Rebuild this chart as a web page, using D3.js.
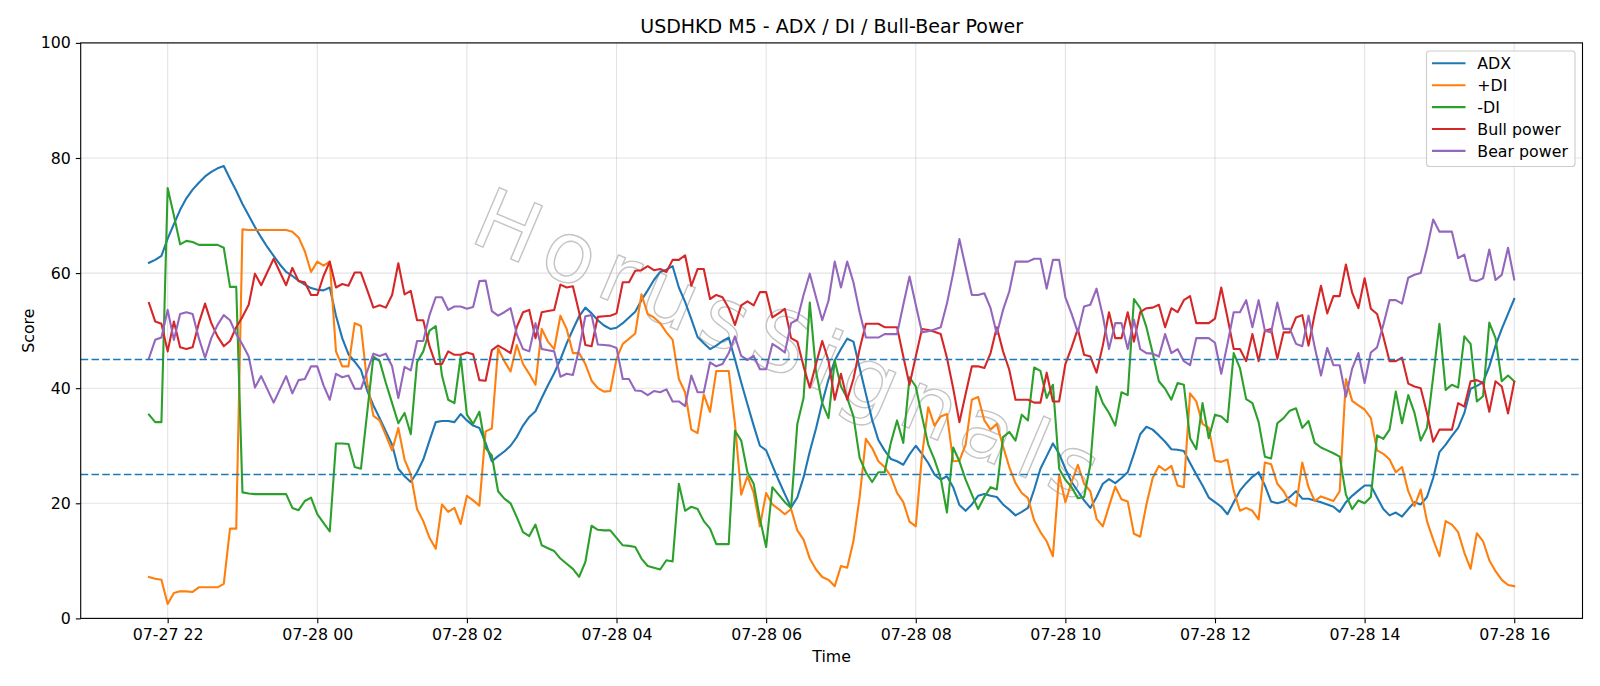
<!DOCTYPE html>
<html><head><meta charset="utf-8">
<script src="https://cdn.jsdelivr.net/npm/d3@7"></script>
<style>
body{margin:0;background:#fff}
svg{display:block}
text{font-family:"DejaVu Sans","Liberation Sans",sans-serif}
</style>
</head><body>
<svg id="chart" width="1600" height="686"></svg>
<script>
// ---------- data (one value per 5-minute bar, starting 07-27 21:45) ----------
const seriesNames = ["ADX", "+DI", "-DI", "Bull power", "Bear power"];
const seriesColors = ["#1f77b4", "#ff7f0e", "#2ca02c", "#d62728", "#9467bd"];

const adx = [61.8,62.3,63.0,66.0,68.5,71.0,73.0,74.5,75.7,76.8,77.6,78.2,78.6,76.4,74.3,72.0,70.0,68.0,66.2,64.5,
63.0,61.5,60.2,59.5,58.7,58.0,57.4,57.1,57.0,57.5,52.6,48.7,45.9,44.6,43.2,39.6,37.0,34.8,32.5,30.2,
26.0,24.7,23.7,25.4,27.6,30.9,34.1,34.3,34.3,34.1,35.5,34.4,33.5,33.1,30.5,27.3,28.2,29.0,30.0,31.5,
33.5,35.0,36.0,38.3,40.5,42.6,45.0,47.8,50.2,52.5,54.0,53.0,51.8,50.9,50.3,50.5,51.3,52.3,53.3,55.3,
57.0,58.8,60.2,60.6,61.2,57.5,55.0,52.0,48.9,47.8,46.8,47.4,48.2,48.8,45.0,41.0,37.2,33.5,30.0,29.2,
26.6,24.0,21.6,19.3,21.0,24.5,29.0,33.0,37.5,41.5,44.8,46.8,48.6,48.1,43.5,39.0,34.5,31.0,29.2,27.7,
27.3,26.7,28.5,30.0,28.6,27.0,25.0,24.1,24.7,22.8,19.7,18.7,19.8,21.3,21.6,21.3,21.1,19.8,18.9,17.9,
18.5,19.2,22.4,26.0,28.2,30.4,28.6,26.0,23.7,22.1,20.5,19.2,21.1,23.4,24.2,23.5,24.4,25.4,28.6,32.0,
33.3,32.8,31.8,30.7,29.4,29.3,29.1,27.0,25.0,23.1,21.0,20.2,19.4,18.1,20.2,22.2,23.5,24.6,25.4,23.1,
20.3,20.0,20.3,21.1,22.1,20.8,20.8,20.5,20.2,19.8,19.4,18.5,20.2,21.3,22.2,23.1,23.1,21.0,19.0,17.9,
18.4,17.7,19.0,20.2,19.8,21.1,24.4,28.9,30.2,31.7,33.1,35.7,39.9,40.4,41.0,43.8,47.4,50.3,52.9,55.5];

const plusDI = [7.2,6.9,6.7,2.5,4.4,4.7,4.7,4.6,5.4,5.4,5.4,5.4,6.0,15.6,15.6,67.6,67.5,67.5,67.5,67.5,
67.5,67.5,67.5,67.2,66.2,63.8,60.2,62.0,61.3,62.0,46.4,43.8,43.8,51.3,50.8,41.0,35.2,34.4,31.8,29.2,
33.1,27.6,25.0,19.0,16.9,14.0,12.1,19.8,18.5,19.2,16.4,21.3,20.5,19.6,32.5,33.0,46.9,44.7,42.9,47.5,
44.2,42.5,40.6,50.3,48.1,46.8,52.6,50.3,46.1,46.1,44.2,41.3,40.0,39.4,39.5,45.1,47.7,48.6,49.5,56.3,
52.9,52.3,51.3,49.7,48.4,41.6,39.3,32.8,32.2,38.9,35.9,43.0,43.0,43.0,33.8,21.5,24.7,21.8,16.0,21.8,
19.8,19.0,18.1,19.0,15.3,13.7,10.4,8.5,7.2,6.7,5.6,9.1,8.8,13.4,21.1,31.2,29.6,27.3,26.3,24.7,
21.8,20.2,16.8,16.0,28.3,36.7,33.5,35.1,35.5,27.3,27.4,30.2,38.0,38.5,34.4,32.8,33.8,29.9,26.3,23.5,
21.8,20.9,17.0,15.0,13.4,10.8,25.0,20.2,23.7,26.7,23.4,22.1,17.3,16.0,19.5,22.9,20.7,20.3,14.7,14.2,
19.8,24.4,26.5,25.7,26.5,23.1,22.8,39.1,37.7,33.8,33.1,27.4,27.2,27.6,22.2,18.7,19.2,18.7,17.2,27.1,
26.8,23.4,22.1,20.2,19.5,27.1,22.8,20.4,21.2,20.8,20.4,22.1,41.6,37.8,37.0,36.3,34.8,29.2,28.6,27.6,
25.4,26.3,22.1,19.5,22.4,16.9,13.7,10.8,16.9,16.3,15.0,11.4,8.6,14.8,13.4,10.1,8.2,6.7,5.8,5.6];

const minusDI = [35.4,34.1,34.1,74.8,70.0,65.0,65.6,65.4,64.9,64.9,64.9,64.9,64.4,57.6,57.6,21.9,21.7,21.6,21.6,21.6,
21.6,21.6,21.6,19.2,18.8,20.4,21.0,18.1,16.6,15.1,30.4,30.4,30.3,26.3,26.0,35.7,45.5,44.7,40.9,37.4,
33.9,35.7,32.0,44.5,46.4,50.0,50.8,42.2,38.0,37.4,45.5,35.4,33.8,35.9,29.6,28.3,22.1,20.8,20.0,17.6,
15.0,14.3,16.3,12.7,12.2,11.7,10.4,9.5,8.6,7.2,9.8,16.1,15.4,15.3,15.3,14.0,12.7,12.6,12.4,10.4,
9.1,8.8,8.5,10.1,9.9,23.4,18.7,19.4,19.0,16.9,15.6,12.9,12.9,12.9,32.6,30.9,25.4,23.4,17.3,12.4,
22.8,21.5,20.2,19.2,33.8,38.3,54.9,42.9,37.4,34.8,44.8,40.3,38.3,35.1,27.9,25.4,23.7,25.4,25.4,30.5,
34.4,30.5,41.9,40.3,35.1,30.2,27.6,24.4,18.4,29.7,27.3,24.1,21.5,19.0,21.1,22.8,22.4,31.5,32.4,30.9,
35.4,34.4,43.6,43.0,38.3,40.6,26.0,24.1,22.8,20.9,21.1,26.7,40.3,37.4,35.7,33.5,39.3,38.8,55.5,53.9,
50.6,46.1,41.2,39.9,38.0,40.9,40.6,31.3,29.4,37.4,31.3,35.4,35.1,34.1,46.1,43.5,38.1,37.4,34.1,28.1,
27.8,33.9,34.8,36.1,36.5,33.1,34.3,30.5,29.7,29.2,28.7,28.1,21.5,19.0,20.5,20.0,21.1,31.8,31.2,32.8,
39.4,33.9,38.8,35.7,30.9,33.1,42.0,51.2,39.7,40.6,40.1,49.0,47.7,37.7,38.6,51.4,48.7,41.2,42.2,41.2];

const bullPower = [54.8,51.6,51.2,46.4,51.6,47.1,46.8,47.1,51.3,54.7,51.3,49.0,47.3,48.2,50.6,52.4,54.5,59.9,57.9,60.2,
62.5,60.2,57.9,60.9,58.6,58.4,56.2,56.2,59.5,62.0,57.5,58.1,57.8,60.1,60.1,57.1,54.0,54.4,54.0,56.2,
61.7,56.3,56.9,51.8,51.8,47.3,44.2,44.2,46.4,45.8,45.8,46.2,45.9,41.4,41.3,46.6,47.4,46.8,46.1,50.6,
53.2,53.6,48.7,53.2,53.4,53.6,58.0,57.5,57.7,53.2,47.5,47.3,52.4,52.5,52.6,53.0,58.4,58.4,60.4,60.5,
61.2,60.5,60.7,60.2,62.3,62.3,63.1,57.8,60.7,60.7,55.5,56.2,55.8,53.9,51.0,54.4,55.1,54.4,56.7,56.7,
52.3,53.0,53.8,48.7,48.1,43.8,40.1,44.2,48.2,44.8,38.0,42.5,38.0,41.6,46.8,51.2,51.2,51.2,50.6,50.6,
50.6,45.5,40.6,45.5,50.3,50.1,49.8,49.4,45.3,40.0,34.1,39.0,43.8,43.8,43.5,46.1,50.6,46.4,43.2,38.0,
38.0,38.0,37.5,37.5,42.7,37.7,37.7,44.2,47.1,50.3,45.8,45.5,42.7,47.4,53.2,48.7,48.7,53.2,48.1,53.2,
53.9,54.0,54.5,50.6,53.9,53.2,55.3,56.0,51.3,51.3,51.3,52.1,57.5,52.3,46.8,46.8,44.7,49.4,44.7,50.0,
50.3,45.1,49.7,49.7,52.3,52.7,47.4,52.9,57.8,53.0,56.0,56.0,61.5,56.6,53.9,59.1,53.8,52.9,49.0,44.7,
44.7,45.3,40.8,40.3,40.0,35.7,30.7,32.8,32.8,32.8,37.4,36.8,41.2,41.4,40.9,35.9,41.2,40.3,35.6,41.1];

const bearPower = [45.2,48.4,48.8,53.6,48.4,52.9,53.2,52.9,48.7,45.3,48.7,51.0,52.7,51.8,49.4,47.6,45.5,40.1,42.1,39.8,
37.5,39.8,42.1,39.1,41.4,41.6,43.8,43.8,40.5,38.0,42.5,41.9,42.2,39.9,39.9,42.9,46.0,45.6,46.0,43.8,
38.3,43.7,43.1,48.2,48.2,52.7,55.8,55.8,53.6,54.2,54.2,53.8,54.1,58.6,58.7,53.4,52.6,53.2,53.9,49.4,
46.8,46.4,51.3,46.8,46.6,46.4,42.0,42.5,42.3,46.8,52.5,52.7,47.6,47.5,47.4,47.0,41.6,41.6,39.6,39.5,
38.8,39.5,39.3,39.8,37.7,37.7,36.9,42.2,39.3,39.3,44.5,43.8,44.2,46.1,49.0,45.6,44.9,45.6,43.3,43.3,
47.7,47.0,46.2,51.3,51.9,56.2,59.9,55.8,51.8,55.2,62.0,57.5,62.0,58.4,53.2,48.8,48.8,48.8,49.4,49.4,
49.4,54.5,59.4,54.5,49.7,49.9,50.2,50.6,54.7,60.0,65.9,61.0,56.2,56.2,56.5,53.9,49.4,53.6,56.8,62.0,
62.0,62.0,62.5,62.5,57.3,62.3,62.3,55.8,52.9,49.7,54.2,54.5,57.3,52.6,46.8,51.3,51.3,46.8,51.9,46.8,
46.1,46.0,45.5,49.4,46.1,46.8,44.7,44.0,48.7,48.7,48.7,47.9,42.5,47.7,53.2,53.2,55.3,50.6,55.3,50.0,
49.7,54.9,50.3,50.3,47.7,47.3,52.6,47.1,42.2,47.0,44.0,44.0,38.5,43.4,46.1,40.9,46.2,47.1,51.0,55.3,
55.3,54.7,59.2,59.7,60.0,64.3,69.3,67.2,67.2,67.2,62.6,63.2,58.8,58.6,59.1,64.1,58.8,59.7,64.4,58.9];

const thresholdLevels = [45, 25];
const yTickValues = [0, 20, 40, 60, 80, 100];
const chartTitle = "USDHKD M5 - ADX / DI / Bull-Bear Power";
const xAxisLabel = "Time";
const yAxisLabel = "Score";
const watermarkText = "HorusSignals";

// ---------- time index ----------
const startTime = new Date(2024, 6, 27, 21, 45);
const stepMs = 5 * 60 * 1000;
const times = adx.map((_, i) => new Date(startTime.getTime() + i * stepMs));
const seriesList = [adx, plusDI, minusDI, bullPower, bearPower];

// ---------- layout ----------
const W = 1600, H = 686;
const plot = {left: 80.7, right: 1582.5, top: 42.9, bottom: 618.4};
const FS = 15.8;

const t0 = times[0].getTime(), t1 = times[times.length - 1].getTime();
const pad = (t1 - t0) * 0.05;
const x = d3.scaleTime().domain([new Date(t0 - pad), new Date(t1 + pad)]).range([plot.left, plot.right]);
const y = d3.scaleLinear().domain([0, 100]).range([plot.bottom, plot.top]);

const svg = d3.select("#chart");
svg.append("rect").attr("width", W).attr("height", H).attr("fill", "#fff");

const xTicks = d3.timeHour.every(2).range(new Date(t0 - pad), new Date(t1 + pad + 1));
const fmt = d3.timeFormat("%m-%d %H");

// grid
const grid = svg.append("g");
grid.selectAll(".gx").data(xTicks).join("line")
  .attr("x1", d => x(d)).attr("x2", d => x(d)).attr("y1", plot.top).attr("y2", plot.bottom)
  .attr("stroke", "#b0b0b0").attr("stroke-opacity", 0.35).attr("stroke-width", 1.1);
grid.selectAll(".gy").data(yTickValues).join("line")
  .attr("x1", plot.left).attr("x2", plot.right).attr("y1", d => y(d)).attr("y2", d => y(d))
  .attr("stroke", "#b0b0b0").attr("stroke-opacity", 0.35).attr("stroke-width", 1.1);

// watermark (outlined grey letters)
svg.append("text")
  .attr("transform", "translate(792,347) rotate(23)")
  .attr("text-anchor", "middle").attr("dominant-baseline", "central")
  .attr("font-size", 84).attr("letter-spacing", 11)
  .style("fill", "none").style("stroke", "#c4c4c4").style("stroke-width", "1.4px")
  .text(watermarkText);

// clip
svg.append("clipPath").attr("id", "clip").append("rect")
  .attr("x", plot.left).attr("y", plot.top).attr("width", plot.right - plot.left).attr("height", plot.bottom - plot.top);

const lineGen = vals => d3.line().x((d, i) => x(times[i])).y(d => y(d))(vals);
const lines = svg.append("g").attr("clip-path", "url(#clip)");
seriesList.forEach((vals, k) => {
  lines.append("path").attr("d", lineGen(vals)).attr("fill", "none")
    .attr("stroke", seriesColors[k]).attr("stroke-width", 2.1)
    .attr("stroke-linejoin", "round").attr("stroke-linecap", "square");
});

// thresholds
lines.selectAll(".th").data(thresholdLevels).join("line")
  .attr("x1", plot.left).attr("x2", plot.right).attr("y1", d => y(d)).attr("y2", d => y(d))
  .attr("stroke", "#1f77b4").attr("stroke-width", 1.5).attr("stroke-dasharray", "7.5,3.3");

// axes frame
svg.append("rect").attr("x", plot.left).attr("y", plot.top)
  .attr("width", plot.right - plot.left).attr("height", plot.bottom - plot.top)
  .attr("fill", "none").attr("stroke", "#000").attr("stroke-width", 1.1);

// x axis
const xAxis = d3.axisBottom(x).tickValues(xTicks).tickFormat(fmt).tickSize(4.9).tickPadding(5);
const gx = svg.append("g").attr("transform", `translate(0,${plot.bottom})`).call(xAxis);
gx.select(".domain").remove();
gx.selectAll("line").attr("stroke", "#000").attr("stroke-width", 1.1);
gx.selectAll("text").attr("font-size", FS).attr("font-family", "DejaVu Sans").attr("fill", "#000");

// y axis
const yAxis = d3.axisLeft(y).tickValues(yTickValues).tickFormat(d3.format("d")).tickSize(4.9).tickPadding(5);
const gy = svg.append("g").attr("transform", `translate(${plot.left},0)`).call(yAxis);
gy.select(".domain").remove();
gy.selectAll("line").attr("stroke", "#000").attr("stroke-width", 1.1);
gy.selectAll("text").attr("font-size", FS).attr("font-family", "DejaVu Sans").attr("fill", "#000");

// labels
svg.append("text").attr("x", (plot.left + plot.right) / 2).attr("y", 32.5)
  .attr("text-anchor", "middle").attr("font-size", 19).attr("fill", "#000").text(chartTitle);
svg.append("text").attr("x", (plot.left + plot.right) / 2).attr("y", 662)
  .attr("text-anchor", "middle").attr("font-size", FS).attr("fill", "#000").text(xAxisLabel);
svg.append("text").attr("transform", `translate(33.5,${(plot.top + plot.bottom) / 2}) rotate(-90)`)
  .attr("text-anchor", "middle").attr("font-size", FS).attr("fill", "#000").text(yAxisLabel);

// legend
const lg = svg.append("g");
lg.append("rect").attr("x", 1426.5).attr("y", 51).attr("width", 148.5).attr("height", 115.5)
  .attr("rx", 3).attr("fill", "#fff").attr("fill-opacity", 0.8).attr("stroke", "#cccccc").attr("stroke-width", 1.1);
seriesNames.forEach((name, k) => {
  const cy = 63.3 + k * 21.9;
  lg.append("line").attr("x1", 1432).attr("x2", 1465.5).attr("y1", cy).attr("y2", cy)
    .attr("stroke", seriesColors[k]).attr("stroke-width", 2.1);
  lg.append("text").attr("x", 1477.3).attr("y", cy).attr("dy", "0.36em")
    .attr("font-size", FS).attr("fill", "#000").text(name);
});
</script>
</body></html>
